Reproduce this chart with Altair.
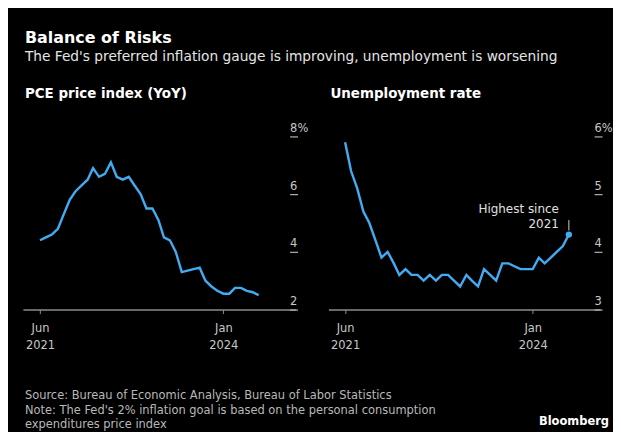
import altair as alt
import pandas as pd

FONT = "DejaVu Sans"
BLUE = "#42abf2"

# ---- data -------------------------------------------------------------
MONTHS = pd.date_range("2021-06-01", "2024-07-01", freq="MS").strftime("%Y-%m-%d").tolist()

PCE_YOY = [4.4, 4.5, 4.6, 4.8, 5.3, 5.8, 6.1,
           6.3, 6.5, 6.9, 6.6, 6.7, 7.1, 6.6, 6.5, 6.6, 6.3, 6.0, 5.5,
           5.5, 5.1, 4.5, 4.4, 4.0, 3.3, 3.35, 3.4, 3.45, 3.0, 2.8, 2.65,
           2.55, 2.55, 2.75, 2.75, 2.65, 2.6, 2.5]

UNRATE = [5.9, 5.4, 5.1, 4.7, 4.5, 4.2, 3.9,
          4.0, 3.8, 3.6, 3.7, 3.6, 3.6, 3.5, 3.6, 3.5, 3.6, 3.6, 3.5,
          3.4, 3.6, 3.5, 3.4, 3.7, 3.6, 3.5, 3.8, 3.8, 3.75, 3.7, 3.7,
          3.7, 3.9, 3.8, 3.9, 4.0, 4.1, 4.3]

PCE_TICKS = [2, 4, 6, 8]
UNRATE_TICKS = [3, 4, 5, 6]
X_TICKS = [(2021, 6), (2024, 1)]

TITLE = "Balance of Risks"
SUBTITLE = "The Fed's preferred inflation gauge is improving, unemployment is worsening"
LEFT_TITLE = "PCE price index (YoY)"
RIGHT_TITLE = "Unemployment rate"
ANNOTATION = ["Highest since", "2021"]
ANNOT_RULE = [4.37, 4.55]
FOOTER = ["Source: Bureau of Economic Analysis, Bureau of Labor Statistics",
          "Note: The Fed's 2% inflation goal is based on the personal consumption",
          "expenditures price index"]
BRAND = "Bloomberg"

pce_df = pd.DataFrame({"date": MONTHS, "value": PCE_YOY})
un_df = pd.DataFrame({"date": MONTHS, "value": UNRATE})


def dt(y, m, d=1):
    return alt.DateTime(year=y, month=m, date=d, utc=True)


def x_enc(domain):
    return alt.X(
        "date:T",
        scale=alt.Scale(type="utc", domain=domain),
        axis=alt.Axis(
            values=[dt(y, m) for y, m in X_TICKS],
            labelExpr="[utcFormat(datum.value, '%b'), utcFormat(datum.value, '%Y')]",
            domainColor="#8c8c8c", domainWidth=1.5,
            tickColor="#8c8c8c", tickSize=4, tickWidth=1,
            labelColor="#c8c8c8", labelFont=FONT, labelFontSize=11.5,
            labelLineHeight=17, labelPadding=9, grid=False, title=None,
        ),
    )


def y_enc(domain, ticks):
    top = ticks[-1]
    return alt.Y(
        "value:Q",
        scale=alt.Scale(domain=domain, nice=False, zero=False),
        axis=alt.Axis(
            orient="right", values=ticks,
            labelExpr=f"datum.value == {top} ? '{top}%' : format(datum.value, 'd')",
            domain=False, grid=False, ticks=True, tickSize=8, tickWidth=1.2,
            tickColor="#b0b0b0", offset=-6, labelPadding=-8,
            labelAlign="left", labelBaseline="bottom", labelOffset=-3,
            labelColor="#c8c8c8", labelFont=FONT, labelFontSize=11.5,
            title=None,
        ),
    )


def panel_title(text):
    return alt.TitleParams(text, anchor="start", font=FONT, fontSize=13.5,
                           fontWeight="bold", color="white", offset=22, dx=2)


left_dom = [dt(2021, 3, 5), dt(2025, 1, 7)]
right_dom = [dt(2021, 3, 9), dt(2024, 12, 5)]

left = alt.Chart(pce_df).mark_line(color=BLUE, strokeWidth=2.4).encode(
    x=x_enc(left_dom), y=y_enc([2, 8], PCE_TICKS)
).properties(width=274, height=174, title=panel_title(LEFT_TITLE))

ann_df = pd.DataFrame({"date": [MONTHS[-1]], "value": [UNRATE[-1]],
                       "label": [ANNOTATION], "y1": [ANNOT_RULE[0]], "y2": [ANNOT_RULE[1]]})

r_line = alt.Chart(un_df).mark_line(color=BLUE, strokeWidth=2.4).encode(
    x=x_enc(right_dom), y=y_enc([3, 6], UNRATE_TICKS))
r_point = alt.Chart(ann_df).mark_circle(size=40, color=BLUE, opacity=1).encode(
    x="date:T", y="value:Q")
r_rule = alt.Chart(ann_df).mark_rule(color="#d0d0d0", strokeWidth=1).encode(
    x="date:T", y="y1:Q", y2="y2:Q")
r_text = alt.Chart(ann_df).mark_text(
    align="right", baseline="bottom", dx=-10, dy=-19, lineHeight=15,
    font=FONT, fontSize=12, color="#e0e0e0").encode(
    x="date:T", y="value:Q", text="label")

right = alt.layer(r_line, r_point, r_rule, r_text).properties(
    width=273, height=174, title=panel_title(RIGHT_TITLE))

top = alt.hconcat(left, right, spacing=33, bounds="flush")

foot_df = pd.DataFrame({"row": [0, 1, 2], "text": FOOTER})
foot_text = alt.Chart(foot_df).mark_text(
    align="left", baseline="middle", font=FONT, fontSize=11.5, color="#b8b8b8"
).encode(
    x=alt.value(2),
    y=alt.Y("row:Q", scale=alt.Scale(domain=[0, 2], range=[10, 39]), axis=None),
    text="text:N",
)
brand = alt.Chart(pd.DataFrame({"t": [BRAND]})).mark_text(
    align="right", baseline="middle", font=FONT, fontSize=11.5,
    fontWeight="bold", color="white"
).encode(x=alt.value(589), y=alt.value(36), text="t:N")
footer = alt.layer(foot_text, brand).properties(width=589, height=45)

chart = alt.vconcat(top, footer, spacing=35).properties(
    title=alt.TitleParams(
        TITLE, subtitle=SUBTITLE, anchor="start", font=FONT, fontSize=16,
        fontWeight="bold", color="white", subtitleFont=FONT,
        subtitleFontSize=13.8, subtitleColor="#e4e4e4", subtitlePadding=5,
        offset=23, dx=2,
    ),
    background="black",
    padding={"left": 15, "top": 20, "right": 0, "bottom": 0},
).configure_view(stroke=None)

chart.save("out.html", embed_options={"renderer": "svg", "actions": False})
